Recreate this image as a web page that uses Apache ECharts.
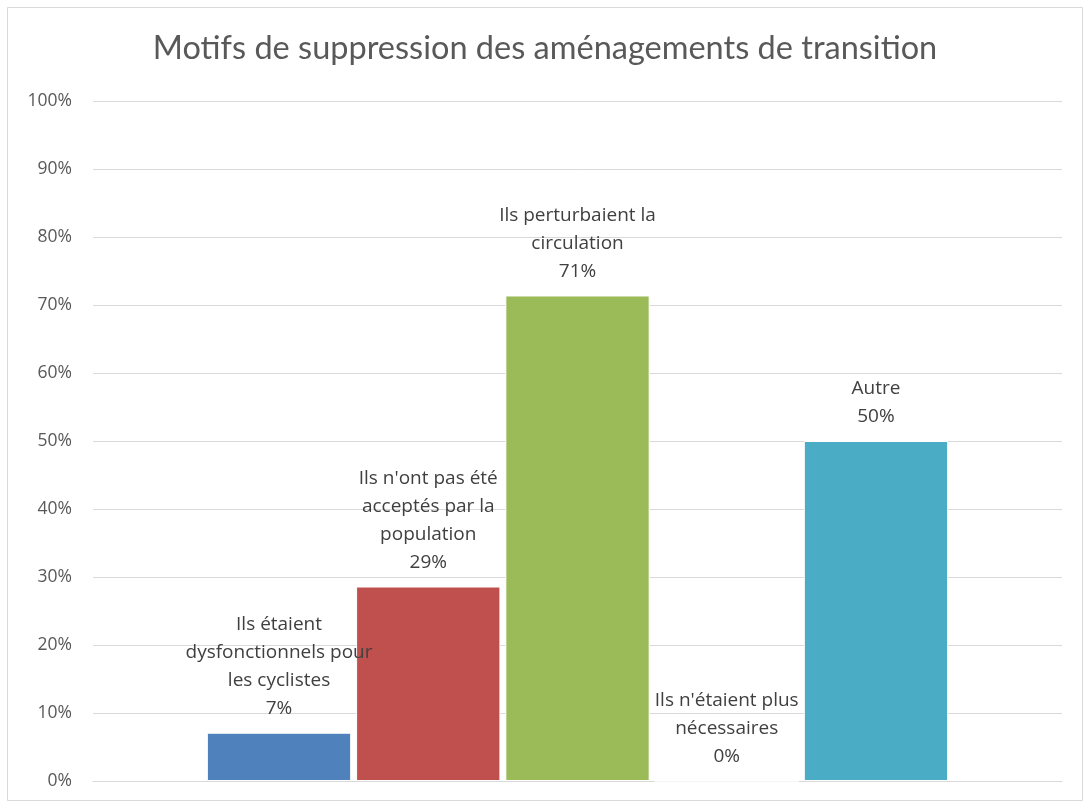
<!DOCTYPE html>
<html>
<head>
<meta charset="utf-8">
<script src="https://cdn.jsdelivr.net/npm/echarts@6/dist/echarts.min.js"></script>
<style>
  html, body { margin: 0; padding: 0; background: #fff; }
  #main { width: 1090px; height: 807px; }
</style>
</head>
<body>
<div id="main"></div>
<script>
// données
var motifs = [
  "Ils étaient\ndysfonctionnels pour\nles cyclistes",
  "Ils n'ont pas été\nacceptés par la\npopulation",
  "Ils perturbaient la\ncirculation",
  "Ils n'étaient plus\nnécessaires",
  "Autre"
];
var valeurs = [7.1, 28.6, 71.4, 0, 50];
var couleurs = ["#4f81bd", "#c0504d", "#9bbb59", "#8064a2", "#4bacc6"];
var yTicks = [0, 100, 10]; // min, max, pas

var main = document.getElementById("main");
var mychart = echarts.init(main);

var series = motifs.map(function (nom, i) {
  return {
    name: nom,
    type: "bar",
    data: [valeurs[i]],
    barGap: "3.4%",
    barCategoryGap: "23.5%",
    itemStyle: { color: couleurs[i], borderColor: "#fff", borderWidth: 1 },
    label: {
      show: true,
      position: "top",
      distance: 10,
      color: "#404040",
      fontFamily: "Open Sans",
      fontSize: 19,
      lineHeight: 28,
      align: "center",
      formatter: function (p) { return p.seriesName + "\n" + Math.round(p.value) + "%"; }
    }
  };
});

var option = {
  backgroundColor: "#fff",
  animation: false,
  title: {
    text: "Motifs de suppression des aménagements de transition",
    left: "center",
    top: 27,
    textStyle: { color: "#595959", fontFamily: "Lato", fontWeight: "normal", fontSize: 32.5 }
  },
  graphic: [{
    type: "rect",
    shape: { x: 7.5, y: 7.5, width: 1075, height: 793 },
    style: { fill: null, stroke: "#d9d9d9", lineWidth: 1 },
    silent: true
  }],
  grid: { left: 93, right: 28, top: 101, bottom: 26 },
  xAxis: {
    type: "category",
    data: [""],
    axisLine: { lineStyle: { color: "#d9d9d9" } },
    axisTick: { show: false },
    axisLabel: { show: false }
  },
  yAxis: {
    type: "value",
    min: yTicks[0], max: yTicks[1], interval: yTicks[2],
    axisLine: { show: false },
    axisTick: { show: false },
    splitLine: { lineStyle: { color: "#d9d9d9", width: 1 } },
    axisLabel: { formatter: "{value}%", color: "#595959", fontFamily: "Open Sans", fontSize: 17.5, margin: 21 }
  },
  series: series
};
mychart.setOption(option);
</script>
</body>
</html>
